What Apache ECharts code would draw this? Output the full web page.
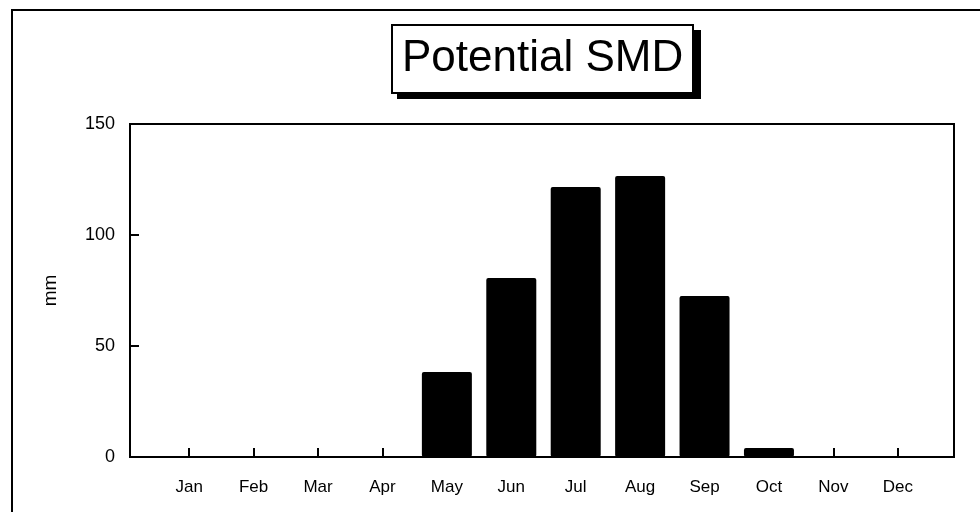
<!DOCTYPE html>
<html>
<head>
<meta charset="utf-8">
<title>Potential SMD</title>
<script src="https://cdn.jsdelivr.net/npm/echarts@6/dist/echarts.min.js"></script>
<style>
  html, body { margin: 0; padding: 0; background: #fff; }
  #chart { width: 980px; height: 512px; }
</style>
</head>
<body>
<div id="chart"></div>
<script>
// data (mm)
const months = ['Jan', 'Feb', 'Mar', 'Apr', 'May', 'Jun', 'Jul', 'Aug', 'Sep', 'Oct', 'Nov', 'Dec']
const smd = [0, 0, 0, 0, 38.3, 80.6, 121.6, 126.6, 72.5, 4, 0.5, 0]
const yTicks = [0, 50, 100, 150]

const font = "'Liberation Sans', Arial, sans-serif"
const chart = echarts.init(document.getElementById('chart'), null, { renderer: 'canvas' })

chart.setOption({
  backgroundColor: '#fff',
  animation: false,
  title: {
    text: 'Potential SMD',
    left: 392,
    top: 25,
    padding: [12, 10],
    backgroundColor: '#fff',
    borderColor: '#000',
    borderWidth: 2,
    textStyle: { fontFamily: font, fontSize: 44, fontWeight: 'normal', color: '#000' }
  },
  graphic: [
    {
      // outer frame of the figure
      type: 'rect',
      shape: { x: 12, y: 10, width: 990, height: 520 },
      style: { fill: 'none', stroke: '#000', lineWidth: 2 },
      silent: true
    },
    {
      // drop shadow behind the title box
      type: 'rect',
      shape: { x: 397, y: 30, width: 304, height: 69 },
      style: { fill: '#000' },
      silent: true
    }
  ],
  grid: [
    // bars
    { left: 157, right: 50, top: 124, bottom: 55 },
    // plot frame + y axis
    { left: 130, right: 26, top: 124, bottom: 55, show: true, borderColor: '#000', borderWidth: 2, backgroundColor: 'transparent' }
  ],
  xAxis: [
    {
      type: 'category',
      gridIndex: 0,
      data: months,
      axisLine: { show: false },
      axisTick: { show: true, inside: true, alignWithLabel: true, length: 9, lineStyle: { color: '#000', width: 2 } },
      axisLabel: { margin: 22, color: '#000', fontFamily: font, fontSize: 17 },
      splitLine: { show: false }
    },
    { type: 'value', gridIndex: 1, show: false }
  ],
  yAxis: [
    { type: 'value', gridIndex: 0, min: yTicks[0], max: yTicks[yTicks.length - 1], interval: 50, show: false },
    {
      type: 'value',
      gridIndex: 1,
      min: yTicks[0],
      max: yTicks[yTicks.length - 1],
      interval: 50,
      name: 'mm',
      nameLocation: 'middle',
      nameGap: 70,
      nameTextStyle: { color: '#000', fontFamily: font, fontSize: 19 },
      axisLine: { show: false },
      axisTick: { show: true, inside: true, length: 9, lineStyle: { color: '#000', width: 2 } },
      axisLabel: { margin: 15, color: '#000', fontFamily: font, fontSize: 18 },
      splitLine: { show: false }
    }
  ],
  series: [{
    type: 'bar',
    xAxisIndex: 0,
    yAxisIndex: 0,
    data: smd,
    barWidth: 50,
    itemStyle: { color: '#000', borderRadius: 2 }
  }]
})
</script>
</body>
</html>
